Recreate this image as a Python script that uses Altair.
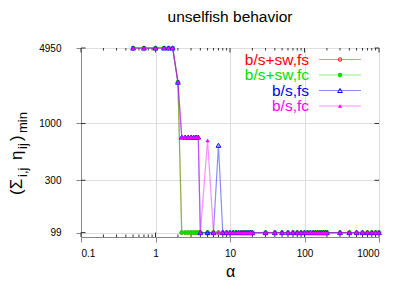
import altair as alt
import pandas as pd

# ---------------- data ----------------
alpha = [0.5, 0.7, 1.0, 1.3, 1.5, 1.7, 2.0,
         2.25, 2.5, 2.75, 3.0, 3.25, 3.5, 3.75, 4.0,
         5, 6, 7, 8, 9, 10, 11, 12, 13, 14, 15, 16, 17, 18, 19, 20,
         30, 40, 50, 60, 70, 80, 90, 100,
         110, 120, 130, 140, 150, 160, 170, 180, 190, 200,
         300, 400, 500, 600, 700, 800, 900, 1000]

top6 = [4950, 4950, 4950, 4950, 4950, 4950]
plateau = [750, 750, 750, 750, 750, 750, 750]

sw_fs = top6 + [2400] + [99] * 50
sw_fc = top6 + [2400] + [99] * 50
bs_fs = top6 + [2400] + plateau + [99, 99, 99, 630] + [99] * 39
bs_fc = top6 + [2400] + plateau + [99, 700] + [99] * 41

series_names = ["b/s+sw,fs", "b/s+sw,fc", "b/s,fs", "b/s,fc"]
series_vals = [sw_fs, sw_fc, bs_fs, bs_fc]
series_colors = ["#ff0000", "#00e000", "#0000ff", "#ff00ff"]
series_shapes = ["circle", "circle", "triangle-up", "triangle-up"]
series_filled = [False, True, False, True]
series_sizes = [12, 20, 22, 18]

x_major = [0.1, 1, 10, 100, 1000]
x_minor = [0.2, 0.3, 0.4, 0.5, 0.6, 0.7, 0.8, 0.9,
           2, 3, 4, 5, 6, 7, 8, 9,
           20, 30, 40, 50, 60, 70, 80, 90,
           200, 300, 400, 500, 600, 700, 800, 900]
y_major = [99, 300, 1000, 4950]

title_text = "unselfish behavior"
x_title = "α"

# ---------------- layout ----------------
W, H = 298, 189
FONT = "Liberation Sans"
xs = alt.Scale(type="log", domain=[0.1, 1000], nice=False)
ys = alt.Scale(type="log", domain=[90.2, 4950], nice=False)

layers = []

# axes carrier (invisible)
axis_df = pd.DataFrame({"x": [0.1, 1000], "y": [99, 4950]})
layers.append(
    alt.Chart(axis_df).mark_point(opacity=0).encode(
        x=alt.X("x:Q", scale=xs, axis=alt.Axis(
            values=x_major, labelExpr="'' + datum.value", title=x_title,
            titleFontSize=16, titleFontWeight="normal", titleFont=FONT,
            titlePadding=5, labelPadding=6)),
        y=alt.Y("y:Q", scale=ys, axis=alt.Axis(
            values=y_major, labelExpr="'' + datum.value", title=None,
            labelPadding=15)),
    )
)

# ticks (inward, mirrored)
xmaj = pd.DataFrame({"v": x_major})
xmin = pd.DataFrame({"v": x_minor})
ymaj = pd.DataFrame({"v": y_major})
tick_col = "#333333"
for df, ln in [(xmaj, 4.5), (xmin, 2.5)]:
    layers.append(alt.Chart(df).mark_rule(color=tick_col, strokeWidth=1).encode(
        x=alt.X("v:Q", scale=xs), y=alt.value(H), y2=alt.value(H - ln)))
    layers.append(alt.Chart(df).mark_rule(color=tick_col, strokeWidth=1).encode(
        x=alt.X("v:Q", scale=xs), y=alt.value(0), y2=alt.value(ln)))
layers.append(alt.Chart(ymaj).mark_rule(color=tick_col, strokeWidth=1).encode(
    y=alt.Y("v:Q", scale=ys), x=alt.value(0), x2=alt.value(4.5)))
layers.append(alt.Chart(ymaj).mark_rule(color=tick_col, strokeWidth=1).encode(
    y=alt.Y("v:Q", scale=ys), x=alt.value(W), x2=alt.value(W - 4.5)))

# series
for name, vals, col, shp, fil, sz in zip(series_names, series_vals, series_colors,
                                         series_shapes, series_filled, series_sizes):
    df = pd.DataFrame({"alpha": alpha, "val": vals})
    base = alt.Chart(df).encode(x=alt.X("alpha:Q", scale=xs),
                                y=alt.Y("val:Q", scale=ys))
    layers.append(base.mark_line(color=col, strokeWidth=1.2, opacity=0.45))
    layers.append(base.mark_point(color=col, shape=shp, filled=fil, size=sz,
                                  strokeWidth=1, opacity=1))

# legend (manual, gnuplot style)
leg_y = [11.5, 27, 42.5, 58]
for name, col, shp, fil, sz, yy in zip(series_names, series_colors, series_shapes,
                                       series_filled, series_sizes, leg_y):
    ldf = pd.DataFrame({"label": [name]})
    layers.append(alt.Chart(ldf).mark_text(
        align="right", baseline="middle", font=FONT, fontSize=15.5, color=col).encode(
        text="label:N", x=alt.value(228), y=alt.value(yy)))
    layers.append(alt.Chart(ldf).mark_rule(color=col, strokeWidth=1.2, opacity=0.45).encode(
        x=alt.value(238), x2=alt.value(280), y=alt.value(yy)))
    layers.append(alt.Chart(ldf).mark_point(color=col, shape=shp, filled=fil, size=sz,
                                            strokeWidth=1, opacity=1).encode(
        x=alt.value(259), y=alt.value(yy)))

# title
tdf = pd.DataFrame({"t": [title_text]})
layers.append(alt.Chart(tdf).mark_text(
    align="center", baseline="middle", font=FONT, fontSize=15.5, color="black").encode(
    text="t:N", x=alt.value(W / 2), y=alt.value(-31)))

# y axis title with subscripts (rotated), pieces: text, size, baseline x, start y (page coords)
OX, OY = 81, 48
yt_text = ["(Σ", "i,j", "η", "ij", ")", "min"]
yt_size = [17, 13, 17, 13, 17, 13]
yt_xb = [22, 26.5, 22, 26.5, 22, 26.5]
yt_y0 = [195, 177, 160, 149, 141, 133]
for t, s, xb, y0 in zip(yt_text, yt_size, yt_xb, yt_y0):
    pdf = pd.DataFrame({"t": [t]})
    layers.append(alt.Chart(pdf).mark_text(
        align="left", baseline="alphabetic", angle=270, font=FONT, fontSize=s,
        color="black").encode(text="t:N", x=alt.value(xb - OX), y=alt.value(y0 - OY)))

chart = alt.layer(*layers).properties(
    width=W, height=H,
    autosize=alt.AutoSizeParams(type="none"),
    padding={"left": 73, "top": 40, "right": 20, "bottom": 48},
).configure_view(
    stroke="#333333", strokeWidth=1
).configure_axis(
    ticks=False, tickSize=0, domain=False, grid=False,
    labelFont=FONT, labelFontSize=15.5, labelColor="black",
    titleColor="black",
).configure(background="white")

chart.save("out.html", embed_options={"renderer": "svg", "actions": False})
